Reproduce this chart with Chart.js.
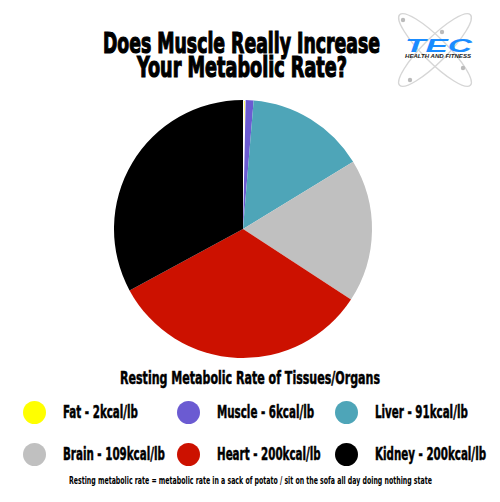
<!DOCTYPE html>
<html>
<head>
<meta charset="utf-8">
<script src="https://cdn.jsdelivr.net/npm/chart.js@4.4.1/dist/chart.umd.min.js"></script>
<style>
  html, body { margin: 0; padding: 0; background: #fff; }
  #page { position: relative; width: 500px; height: 502px; overflow: hidden; }
  .txt {
    position: absolute;
    white-space: nowrap;
    font-family: 'DejaVu Sans Condensed', 'DejaVu Sans', sans-serif;
    font-stretch: condensed;
    font-weight: bold;
    color: #000;
    line-height: 1;
    transform-origin: 0 0;
  }
  .heavy { -webkit-text-stroke: 1.2px #000; }
  .mid { -webkit-text-stroke: 0.5px #000; }
  .dot { position: absolute; border-radius: 50%; }
  #chartBox { position: absolute; left: 113px; top: 99px; width: 260px; height: 260px; }
</style>
</head>
<body>
<div id="page">
  <div class="txt heavy" id="t1" data-w="277" style="left:103px; top:28.6px; font-size:29px;">Does Muscle Really Increase</div>
  <div class="txt heavy" id="t2" data-w="210" style="left:137px; top:53.7px; font-size:28px;">Your Metabolic Rate?</div>

  <svg style="position:absolute; left:380px; top:0;" width="120" height="100" viewBox="380 0 120 100">
    <ellipse cx="435" cy="50" rx="50" ry="12" fill="none" stroke="#d6d6d6" stroke-width="1.4" transform="rotate(45 435 50)"/>
    <ellipse cx="435" cy="50" rx="50" ry="12" fill="none" stroke="#d6d6d6" stroke-width="1.4" transform="rotate(-45 435 50)"/>
    <circle cx="403" cy="20" r="2.2" fill="#bbb"/>
    <circle cx="442" cy="32" r="2.2" fill="#bbb"/>
    <circle cx="463" cy="68" r="2.2" fill="#bbb"/>
    <circle cx="410" cy="80" r="2.2" fill="#bbb"/>
    <text x="405" y="52" textLength="67" lengthAdjust="spacingAndGlyphs"
          font-family="Liberation Sans, Arial, sans-serif" font-weight="bold" font-style="italic"
          font-size="19" fill="#1a8cff">TEC</text>
    <text x="405" y="57.5" textLength="66" lengthAdjust="spacingAndGlyphs"
          font-family="Liberation Sans, Arial, sans-serif" font-weight="bold" font-style="italic"
          font-size="5" fill="#222">HEALTH AND FITNESS</text>
  </svg>

  <div id="chartBox"><canvas id="chart" width="260" height="260"></canvas></div>

  <div class="txt mid" id="lt" data-w="260" style="left:120px; top:369.5px; font-size:17.5px;">Resting Metabolic Rate of Tissues/Organs</div>
  <div id="legend"></div>
  <div class="txt" id="fn" data-w="363" style="left:69px; top:474.5px; font-size:11px;">Resting metabolic rate = metabolic rate in a sack of potato / sit on the sofa all day doing nothing state</div>
</div>

<script>
const tissues = ['Fat', 'Muscle', 'Liver', 'Brain', 'Heart', 'Kidney'];
const kcalPerLb = [2, 6, 91, 109, 200, 200];
const sliceColors = ['#ffff00', '#6b5bd2', '#4ea5b8', '#c0c0c0', '#cc1100', '#000000'];

// legend grid: 3 columns, 2 rows
const legendCols = [34, 188, 346];
const legendRows = [412, 454];

const legend = document.getElementById('legend');
tissues.forEach((name, i) => {
  const cx = legendCols[i % 3];
  const cy = legendRows[Math.floor(i / 3)];
  const dot = document.createElement('div');
  dot.className = 'dot';
  dot.style.left = (cx - 11.5) + 'px';
  dot.style.top = (cy - 11.5) + 'px';
  dot.style.width = '23px';
  dot.style.height = '23px';
  dot.style.background = sliceColors[i];
  legend.appendChild(dot);

  const label = document.createElement('div');
  label.className = 'txt mid legend-label';
  label.textContent = `${name} - ${kcalPerLb[i]}kcal/lb`;
  label.style.left = (cx + 29) + 'px';
  label.style.top = (cy - 9) + 'px';
  label.style.fontSize = '18px';
  legend.appendChild(label);
});

// squeeze text horizontally to imitate the condensed poster font
document.querySelectorAll('.txt[data-w]').forEach(el => {
  const w = el.getBoundingClientRect().width;
  el.style.transform = `scaleX(${el.dataset.w / w})`;
});
const labels = document.querySelectorAll('.legend-label');
const first = labels[0].getBoundingClientRect().width;
const legendScale = 75 / first;
labels.forEach(el => { el.style.transform = `scaleX(${legendScale})`; });

new Chart(document.getElementById('chart'), {
  type: 'pie',
  data: {
    labels: tissues,
    datasets: [
      {
        data: kcalPerLb,
        backgroundColor: sliceColors,
        borderColor: '#ffffff',
        borderWidth: [2, 0, 0, 0, 0, 0]
      }
    ]
  },
  options: {
    responsive: false,
    animation: false,
    layout: { padding: 0 },
    plugins: {
      legend: { display: false },
      tooltip: { enabled: false }
    }
  }
});
</script>
</body>
</html>
